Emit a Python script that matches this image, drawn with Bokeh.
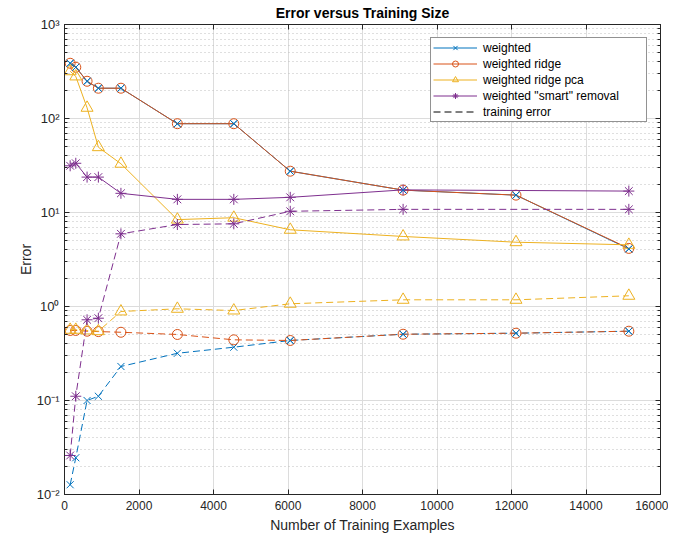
from bokeh.plotting import figure
from bokeh.models import (Range1d, FixedTicker, CustomJSTickFormatter, LinearAxis, LogAxis, Legend)
from bokeh.embed import file_html
from bokeh.resources import INLINE

# ---- data ----
x_sizes = [152, 303, 606, 909, 1515, 3030, 4545, 6060, 9090, 12120, 15150]
x_smart = [152, 303, 606, 909, 1515, 3030, 4545, 6060, 9090, 15150]

weighted_test = [387, 351, 249, 210, 210, 88, 88, 27.5, 17.3, 15.3, 4.1]
ridge_test = [387, 351, 249, 210, 210, 88, 88, 27.5, 17.3, 15.3, 4.15]
pca_test = [318, 280, 130, 49.5, 33, 8.4, 8.8, 6.55, 5.56, 4.83, 4.53]
smart_test = [31.4, 33.4, 23.8, 23.8, 16.0, 13.8, 13.8, 14.5, 17.4, 16.9]

weighted_train = [0.0127, 0.0246, 0.100, 0.111, 0.230, 0.318, 0.369, 0.435, 0.507, 0.520, 0.546]
ridge_train = [0.556, 0.556, 0.546, 0.541, 0.532, 0.504, 0.442, 0.435, 0.507, 0.520, 0.546]
pca_train = [0.565, 0.565, 0.556, 0.546, 0.885, 0.945, 0.906, 1.069, 1.178, 1.178, 1.30]
smart_train = [0.026, 0.111, 0.722, 0.751, 5.93, 7.45, 7.58, 10.3, 10.8, 10.8]

x_ticks = [0, 2000, 4000, 6000, 8000, 10000, 12000, 14000, 16000]
y_ticks = [0.01, 0.1, 1, 10, 100, 1000]
y_minor = [m * d for d in [0.01, 0.1, 1, 10, 100] for m in range(2, 10)]

labels = ["weighted", "weighted ridge", "weighted ridge pca", 'weighted "smart" removal', "training error"]
colors = ["#0072BD", "#D95319", "#EDB120", "#7E2F8E"]

FONT = "Liberation Sans"
AX = "#262626"

p = figure(width=668, height=531, frame_width=596, frame_height=470,
           y_axis_type="log", x_range=Range1d(0, 16000), y_range=Range1d(0.01, 1000),
           output_backend="svg", toolbar_location=None,
           min_border_left=64, min_border_right=8, min_border_bottom=37, min_border_top=24)

p.title.text = "Error versus Training Size"
p.title.text_font = FONT
p.title.text_font_size = "14px"
p.title.text_font_style = "bold"
p.title.text_color = "#000000"
p.title.align = "center"
p.title.vertical_align = "middle"
p.title.standoff = 5

p.outline_line_color = AX
p.background_fill_color = "white"

# axes
p.xaxis.ticker = FixedTicker(ticks=x_ticks, minor_ticks=[])
p.yaxis.ticker = FixedTicker(ticks=y_ticks, minor_ticks=y_minor)
p.yaxis.formatter = CustomJSTickFormatter(code="""
const e = Math.round(Math.log10(tick));
const sup = {'-':'\u207b','0':'\u2070','1':'\u00b9','2':'\u00b2','3':'\u00b3','4':'\u2074','5':'\u2075','6':'\u2076','7':'\u2077','8':'\u2078','9':'\u2079'};
return '10' + String(e).split('').map(c => sup[c]).join('');
""")
for ax in [p.xaxis[0], p.yaxis[0]]:
    ax.axis_line_color = AX
    ax.major_tick_line_color = AX
    ax.minor_tick_line_color = AX
    ax.major_tick_in = 5
    ax.major_tick_out = 0
    ax.minor_tick_in = 3
    ax.minor_tick_out = 0
    ax.major_label_text_font = FONT
    ax.major_label_text_font_size = "12px"
    ax.major_label_text_color = AX
    ax.axis_label_text_font = FONT
    ax.axis_label_text_font_size = "14px"
    ax.axis_label_text_font_style = "normal"
    ax.axis_label_text_color = AX
p.yaxis.major_label_text_font_size = "13px"
p.xaxis.axis_label = "Number of Training Examples"
p.yaxis.axis_label = "Error"
p.xaxis.major_label_standoff = 6
p.xaxis.axis_label_standoff = 4
p.yaxis.major_label_standoff = 5
p.yaxis.axis_label_standoff = 0

empty = CustomJSTickFormatter(code="return '';")
top = LinearAxis(ticker=FixedTicker(ticks=x_ticks, minor_ticks=[]), formatter=empty,
                 major_tick_in=5, major_tick_out=0, minor_tick_in=0, minor_tick_out=0,
                 axis_line_color=AX, major_tick_line_color=AX, major_label_standoff=0,
                 major_label_text_font_size="1px")
right = LogAxis(ticker=FixedTicker(ticks=y_ticks, minor_ticks=y_minor), formatter=empty,
                major_tick_in=5, major_tick_out=0, minor_tick_in=3, minor_tick_out=0,
                axis_line_color=AX, major_tick_line_color=AX, minor_tick_line_color=AX,
                major_label_standoff=0, major_label_text_font_size="1px")
p.add_layout(top, "above")
p.add_layout(right, "right")

# grids
p.xgrid.grid_line_color = "#dcdcdc"
p.xgrid.ticker = FixedTicker(ticks=x_ticks, minor_ticks=[])
p.ygrid.ticker = FixedTicker(ticks=y_ticks, minor_ticks=y_minor)
p.ygrid.grid_line_color = "#dcdcdc"
p.ygrid.minor_grid_line_color = "#bfbfbf"
p.ygrid.minor_grid_line_dash = "1 3"

DASH = "7 4"
items = []

def series(x, ytest, ytrain, color, marker, label, size):
    p.line(x, ytrain, line_color=color, line_width=1, line_dash=DASH)
    p.scatter(x, ytrain, marker=marker, size=size, line_color=color, fill_color=None, line_width=1)
    l = p.line(x, ytest, line_color=color, line_width=1)
    s = p.scatter(x, ytest, marker=marker, size=size, line_color=color, fill_color=None, line_width=1)
    items.append((label, [l, s]))

series(x_sizes, weighted_test, weighted_train, colors[0], "x", labels[0], 10)
series(x_sizes, ridge_test, ridge_train, colors[1], "circle", labels[1], 10)
series(x_sizes, pca_test, pca_train, colors[2], "triangle", labels[2], 12)
series(x_smart, smart_test, smart_train, colors[3], "asterisk", labels[3], 11)

# blue x markers on top of the coinciding circles
p.scatter(x_sizes, weighted_test, marker="x", size=10, line_color=colors[0], line_width=1)
p.scatter(x_sizes[7:], weighted_train[7:], marker="x", size=10, line_color=colors[0], line_width=1)

nan = float("nan")
te = p.line([nan, nan], [nan, nan], line_color="#000000", line_width=1, line_dash=DASH)
items.append((labels[4], [te]))

legend = Legend(items=items, location="top_right", margin=13, padding=2,
                spacing=1, label_height=15, glyph_width=44, glyph_height=15,
                label_width=161,
                label_text_font=FONT, label_text_font_size="12px", label_text_color="#000000",
                border_line_color=AX, border_line_width=1, background_fill_alpha=1,
                label_standoff=6)
p.add_layout(legend)

open("out.html", "w").write(file_html(p, INLINE))
